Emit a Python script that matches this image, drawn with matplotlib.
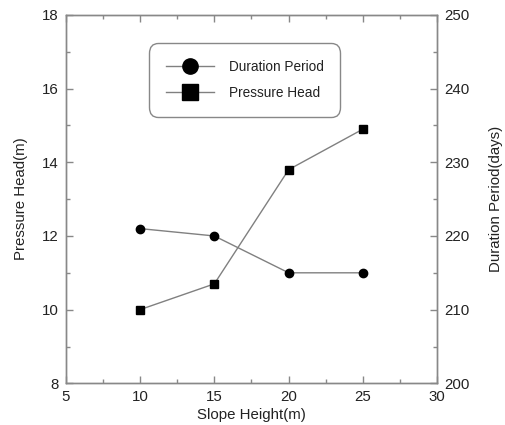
import matplotlib
matplotlib.use("Agg")
import matplotlib.pyplot as plt
from matplotlib.lines import Line2D
from matplotlib.ticker import MultipleLocator

plt.rcParams['font.family'] = ['Liberation Sans', 'DejaVu Sans']

slope_height = [10, 15, 20, 25]
pressure_head = [10.0, 10.7, 13.8, 14.9]
duration_days = [221, 220, 215, 215]

x_label = "Slope Height(m)"
left_label = "Pressure Head(m)"
right_label = "Duration Period(days)"

txt = '#222222'
spine = '#888888'
line_c = '#808080'
fs_tick = 10.8
fs_lab = 10.8

fig = plt.figure(figsize=(5.05, 4.25), dpi=100)
ax = fig.add_axes([0.130, 0.098, 0.736, 0.867])
ax2 = ax.twinx()

ax.plot(slope_height, pressure_head, color=line_c, lw=1.0, marker='s', ms=6.2,
        mfc='black', mec='black', zorder=3)
ax2.plot(slope_height, duration_days, color=line_c, lw=1.0, marker='o', ms=6,
         mfc='black', mec='black', zorder=3)

ax.set_xlim(5, 30)
ax.set_ylim(8, 18)
ax2.set_ylim(200, 250)
ax.xaxis.set_major_locator(MultipleLocator(5))
ax.xaxis.set_minor_locator(MultipleLocator(2.5))
ax.yaxis.set_major_locator(MultipleLocator(2))
ax.yaxis.set_minor_locator(MultipleLocator(1))
ax2.yaxis.set_major_locator(MultipleLocator(10))
ax2.yaxis.set_minor_locator(MultipleLocator(5))

for a in (ax, ax2):
    for s in a.spines.values():
        s.set_color(spine)
        s.set_linewidth(1.0)
ax.tick_params(which='both', direction='in', top=True, colors=spine,
               labelcolor=txt, labelsize=fs_tick, width=1.0)
ax.tick_params(which='major', length=5, pad=5)
ax.tick_params(which='minor', length=3)
ax2.tick_params(which='both', direction='in', colors=spine,
                labelcolor=txt, labelsize=fs_tick, width=1.0)
ax2.tick_params(which='major', length=5, pad=5)
ax2.tick_params(which='minor', length=3)

ax.set_xlabel(x_label, fontsize=fs_lab, color=txt, labelpad=3)
ax.set_ylabel(left_label, fontsize=fs_lab, color=txt, labelpad=10)
ax2.set_ylabel(right_label, fontsize=fs_lab, color=txt, labelpad=14)

handles = [
    Line2D([], [], color=line_c, lw=1.0, marker='o', ms=11, mfc='black', mec='black'),
    Line2D([], [], color=line_c, lw=1.0, marker='s', ms=11, mfc='black', mec='black'),
]
leg = ax.legend(handles, ["Duration Period", "Pressure Head"], loc='upper left',
                bbox_to_anchor=(0.224, 0.923), borderaxespad=0, fancybox=True,
                edgecolor=spine, framealpha=1, fontsize=9.8, handlelength=3.5,
                handletextpad=1.1, borderpad=1.25, labelspacing=0.85)
for t in leg.get_texts():
    t.set_color(txt)
leg.get_frame().set_linewidth(1.0)
leg.get_frame().set_boxstyle('round,pad=0,rounding_size=0.7')

fig.savefig("out.png", dpi=100)
